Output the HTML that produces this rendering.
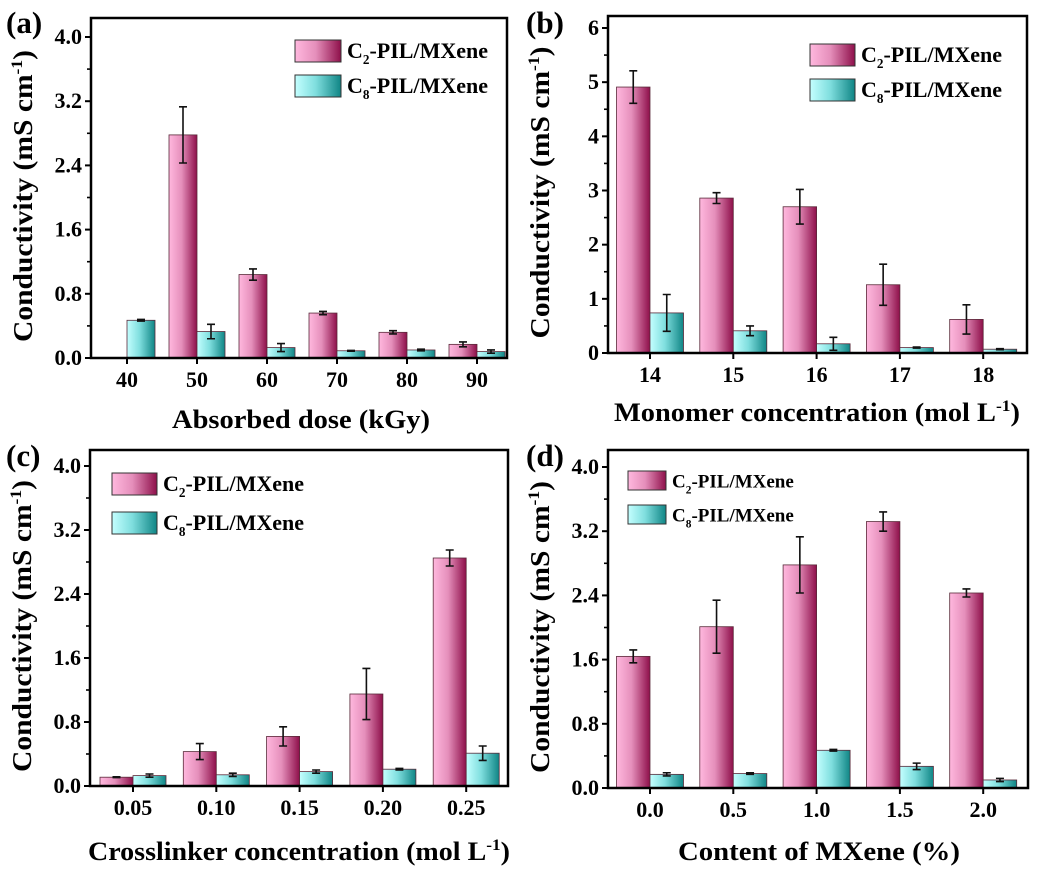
<!DOCTYPE html>
<html><head><meta charset="utf-8"><style>
html,body{margin:0;padding:0;background:#fff;}
svg, svg text{font-family:"Liberation Serif","DejaVu Serif","Times New Roman",serif !important;font-weight:bold;}
</style></head><body>
<svg id="fig" width="1039" height="873" viewBox="0 0 1039 873" xmlns="http://www.w3.org/2000/svg">
<defs>
<linearGradient id="gp" x1="0" x2="1" y1="0" y2="0"><stop offset="0" stop-color="#ffb8de"/><stop offset="0.45" stop-color="#e58fbb"/><stop offset="1" stop-color="#8e0f4a"/></linearGradient>
<linearGradient id="gc" x1="0" x2="1" y1="0" y2="0"><stop offset="0" stop-color="#c4ffff"/><stop offset="0.45" stop-color="#7fdede"/><stop offset="1" stop-color="#0f8585"/></linearGradient>
</defs>
</svg>
<script>
// Panel (a)
const catsA = ["40","50","60","70","80","90"];
const c2A = [null,2.78,1.04,0.56,0.32,0.17];
const c2AErr = [0,0.35,0.07,0.02,0.02,0.03];
const c8A = [0.47,0.33,0.13,0.09,0.10,0.08];
const c8AErr = [0.01,0.09,0.05,0.005,0.01,0.02];
const ticksA = ["0.0","0.8","1.6","2.4","3.2","4.0"];
// Panel (b)
const catsB = ["14","15","16","17","18"];
const c2B = [4.91,2.86,2.70,1.26,0.62];
const c2BErr = [0.30,0.10,0.32,0.38,0.27];
const c8B = [0.74,0.41,0.17,0.10,0.07];
const c8BErr = [0.34,0.09,0.12,0.01,0.01];
const ticksB = ["0","1","2","3","4","5","6"];
// Panel (c)
const catsC = ["0.05","0.10","0.15","0.20","0.25"];
const c2C = [0.11,0.43,0.62,1.15,2.85];
const c2CErr = [0.005,0.10,0.12,0.32,0.10];
const c8C = [0.13,0.14,0.18,0.21,0.41];
const c8CErr = [0.02,0.02,0.02,0.01,0.09];
const ticksC = ["0.0","0.8","1.6","2.4","3.2","4.0"];
// Panel (d)
const catsD = ["0.0","0.5","1.0","1.5","2.0"];
const c2D = [1.64,2.01,2.78,3.32,2.43];
const c2DErr = [0.08,0.33,0.35,0.12,0.05];
const c8D = [0.17,0.18,0.47,0.27,0.10];
const c8DErr = [0.02,0.01,0.01,0.04,0.02];
const ticksD = ["0.0","0.8","1.6","2.4","3.2","4.0"];

const svg = document.getElementById('fig');
const NS = "http://www.w3.org/2000/svg";
const FF = '"Liberation Serif", "DejaVu Serif", serif';
function mk(tag, attrs, parent){const e=document.createElementNS(NS,tag);for(const k in attrs)e.setAttribute(k,attrs[k]);if(tag==='text'){e.setAttribute('font-family',FF);e.setAttribute('font-weight','bold');}(parent||svg).appendChild(e);return e;}

function panel(p){
  const g = mk('g',{});
  
  
  const ymax = parseFloat(p.ticks[p.ticks.length-1]);
  const y = v => p.y0 - (v/ymax)*(p.y0-p.yTop);
  const xc = i => p.c0 + p.step*i;
  p.cats.forEach((c,i)=>{
    [[p.c2,p.c2e,'url(#gp)',-1,'c2'],[p.c8,p.c8e,'url(#gc)',0,'c8']].forEach(([vals,errs,fill,off,nm])=>{
      const v = vals[i]; if(v==null) return;
      const x = xc(i)+off*p.bw;
      const r = mk('rect',{x:x,y:y(v),width:p.bw,height:p.y0-y(v),fill:fill,stroke:'#5a2a3a','stroke-width':0.8},g);
      
      
      const e = errs[i], cx = x+p.bw/2;
      const eb = mk('path',{d:`M${cx},${y(v+e)}V${y(v-e)}M${cx-4},${y(v+e)}H${cx+4}M${cx-4},${y(v-e)}H${cx+4}`,stroke:'#111','stroke-width':1.6,fill:'none'},g);
      
      
    });
    const t = mk('text',{x:xc(i),y:p.y0+29,'text-anchor':'middle','font-size':22},g);
    t.textContent = c;
    
    
    mk('line',{x1:xc(i),x2:xc(i),y1:p.y0,y2:p.y0+6,stroke:'#000','stroke-width':2},g);
  });
  const fr = mk('rect',{x:p.x0,y:p.top,width:p.x1-p.x0,height:p.y0-p.top,fill:'none',stroke:'#000','stroke-width':2.5},g);
  
  
  p.ticks.forEach((tk,i)=>{
    const v = parseFloat(tk), yy = y(v);
    mk('line',{x1:p.x0-6,x2:p.x0,y1:yy,y2:yy,stroke:'#000','stroke-width':2},g);
    if(i<p.ticks.length-1){const ym=y(v+ymax/(p.ticks.length-1)/2);mk('line',{x1:p.x0-4,x2:p.x0,y1:ym,y2:ym,stroke:'#000','stroke-width':1.6},g);}
    const t = mk('text',{x:p.x0-9,y:yy+7,'text-anchor':'end','font-size':22},g);
    t.textContent = tk;
    
    
  });
  const yt = mk('text',{x:0,y:0,transform:`translate(${p.x0-59},${(p.top+p.y0)/2+8}) rotate(-90)`,'text-anchor':'middle','font-size':27,textLength:p.ytLen,lengthAdjust:'spacingAndGlyphs'},g);
  yt.innerHTML = 'Conductivity (mS cm<tspan dy="-10" font-size="16">-1</tspan><tspan dy="10">)</tspan>';
  
  
  const xt = mk('text',{x:p.xtX,y:p.xtY,'text-anchor':'middle','font-size':26,textLength:p.xtLen,lengthAdjust:'spacingAndGlyphs'},g);
  xt.innerHTML = p.xtitle;
  
  
  const pl = mk('text',{x:p.lx,y:p.ly,'font-size':31},g);
  pl.textContent = '('+p.id+')';
  
  
  [['url(#gp)','2'],['url(#gc)','8']].forEach(([f,s],k)=>{
    const ly = p.legY + k*p.legGap;
    const sw = mk('rect',{x:p.legX,y:ly,width:p.legW,height:p.legH,fill:f,stroke:'#333','stroke-width':1},g);
    
    
    const lt = mk('text',{x:p.legX+p.legW+6,y:ly+p.legH/2+7,'font-size':p.legF},g);
    lt.innerHTML = 'C<tspan dy="6" font-size="'+(p.legF*0.6)+'">'+s+'</tspan><tspan dy="-6">-PIL/MXene</tspan>';
    
    
  });
}

panel({id:'a',cats:catsA,c2:c2A,c2e:c2AErr,c8:c8A,c8e:c8AErr,ticks:ticksA,
  x0:91,x1:507,top:18,y0:358,yTop:37,c0:127,step:70,bw:28,ytLen:292,xtLen:258,
  xtitle:'Absorbed dose (kGy)',xtX:301,xtY:428,lx:6,ly:33,
  legX:295,legY:40,legGap:35,legW:46,legH:22,legF:22});
panel({id:'b',cats:catsB,c2:c2B,c2e:c2BErr,c8:c8B,c8e:c8BErr,ticks:ticksB,ytLen:292,xtLen:406,
  x0:608,x1:1027,top:16,y0:353,yTop:28,c0:650,step:83.3,bw:33.5,
  xtitle:'Monomer concentration (mol L<tspan dy="-10" font-size="16">-1</tspan><tspan dy="10">)</tspan>',xtX:817,xtY:421,lx:526,ly:33,
  legX:810,legY:44,legGap:35,legW:45,legH:22,legF:22});
panel({id:'c',cats:catsC,c2:c2C,c2e:c2CErr,c8:c8C,c8e:c8CErr,ticks:ticksC,ytLen:292,xtLen:422,
  x0:90,x1:508,top:450,y0:786,yTop:466,c0:133,step:83.3,bw:33,
  xtitle:'Crosslinker concentration (mol L<tspan dy="-10" font-size="16">-1</tspan><tspan dy="10">)</tspan>',xtX:299,xtY:860,lx:6,ly:466,
  legX:112,legY:473,legGap:39,legW:45,legH:22,legF:22});
panel({id:'d',cats:catsD,c2:c2D,c2e:c2DErr,c8:c8D,c8e:c8DErr,ticks:ticksD,ytLen:292,xtLen:282,
  x0:608,x1:1028,top:450,y0:788,yTop:467,c0:650,step:83.3,bw:33.5,
  xtitle:'Content of MXene (%)',xtX:819,xtY:860,lx:526,ly:466,
  legX:628,legY:471,legGap:34,legW:38,legH:19,legF:19});
</script>
</body></html>
